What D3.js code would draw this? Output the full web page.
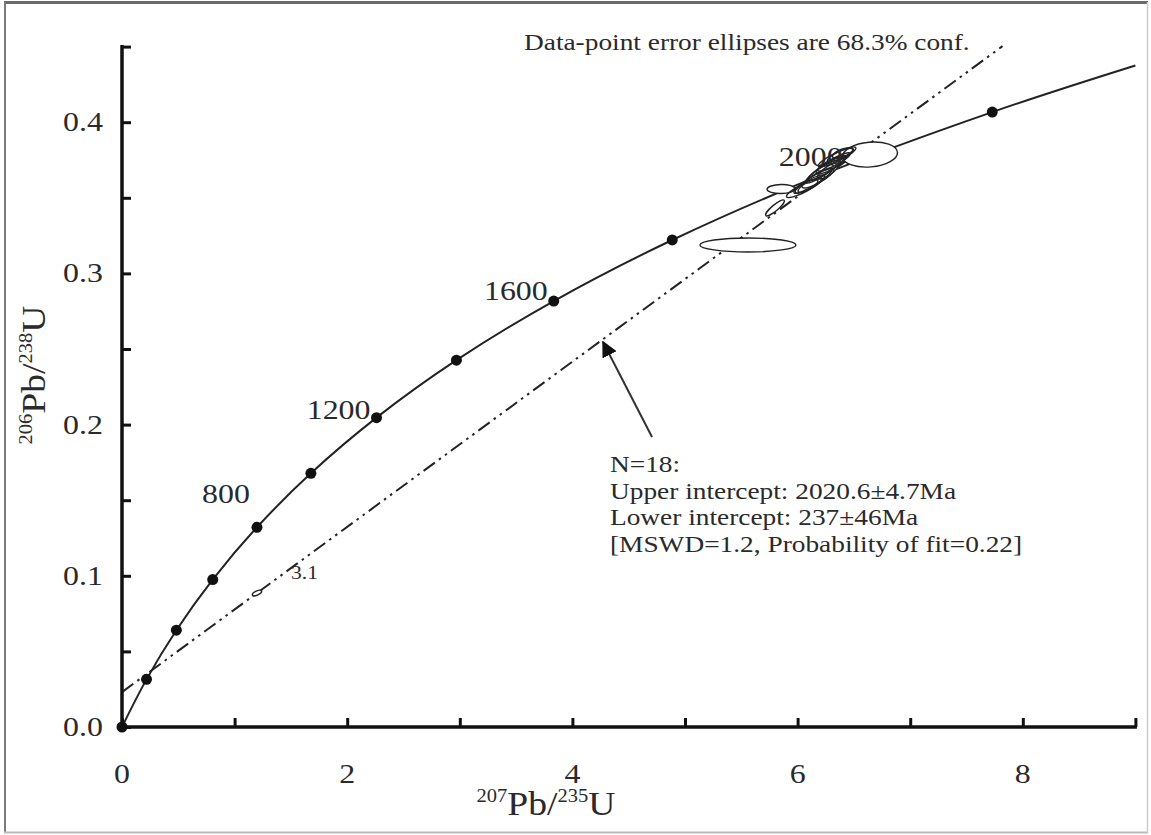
<!DOCTYPE html>
<meta charset="utf-8">
<style>
  body { margin: 0; background: #fff; }
  svg text { font-family: "Liberation Serif", "Times New Roman", serif; fill: #2a2a2a; }
</style>
<svg width="1151" height="835"></svg>
<script src="https://d3js.org/d3.v7.min.js"></script>
<script>
// concordia tick points (Ma) and their ratios
var concAges = [0, 200, 400, 600, 800, 1000, 1200, 1400, 1600, 1800, 2000, 2200]
var concX = [0, 0.2177, 0.4828, 0.8056, 1.1987, 1.6774, 2.2603, 2.9702, 3.8344, 4.8869, 6.1686, 7.7289]
var concY = [0, 0.0315, 0.0640, 0.0975, 0.1321, 0.1678, 0.2046, 0.2426, 0.2817, 0.3221, 0.3638, 0.4067]
var concEnd = [9.0, 0.4375]
var ageLabels = [800, 1200, 1600, 2000]

// discordia line ends
var discX = [0, 7.82]
var discY = [0.0231, 0.4503]

// analyses: 207/235, 206/238, errors, rho
var ellX   = [6.643, 5.853, 5.799, 5.559, 1.199, 6.057, 6.110, 6.137, 6.181, 6.217, 6.261, 6.297, 6.323, 6.350, 6.377, 6.403, 6.270, 6.092]
var ellY   = [0.3786, 0.3558, 0.3433, 0.3188, 0.0886, 0.3565, 0.3591, 0.3611, 0.3631, 0.3671, 0.3697, 0.3717, 0.3737, 0.3770, 0.3783, 0.3796, 0.3677, 0.3578]
var ellSx  = [0.244, 0.124, 0.0834, 0.426, 0.041, 0.156, 0.131, 0.170, 0.142, 0.147, 0.170, 0.131, 0.144, 0.168, 0.113, 0.094, 0.094, 0.088]
var ellSy  = [0.00827, 0.0030, 0.00532, 0.00463, 0.00184, 0.0064, 0.0060, 0.0082, 0.0066, 0.0074, 0.0082, 0.0060, 0.0060, 0.0066, 0.0044, 0.0036, 0.0053, 0.0042]
var ellRho = [0.15, 0.05, 0.88, 0.0, 0.63, 0.875, 0.852, 0.917, 0.831, 0.898, 0.917, 0.852, 0.90, 0.885, 0.82, 0.59, 0.78, 0.78]

var xTicks = [0, 2, 4, 6, 8]
var yTicks = [0, 0.1, 0.2, 0.3, 0.4]

var caption = "Data-point error ellipses are 68.3% conf."
var resultLines = ["N=18:", "Upper intercept: 2020.6\u00b14.7Ma", "Lower intercept: 237\u00b146Ma", "[MSWD=1.2, Probability of fit=0.22]"]
var arrowFrom = [4.707, 0.1918], arrowTo = [4.272, 0.2546]

var svg = d3.select('svg')
var stretch = 1.14   // the picture's text is a bit wide

var x = d3.scaleLinear().domain([0, 9]).range([122, 1135.4])
var y = d3.scaleLinear().domain([0, 0.45]).range([727, 46.6])

// frame
svg.append('line').attr('x1', 4).attr('x2', 1148).attr('y1', 2.5).attr('y2', 2.5).attr('stroke', '#6a6a6a').attr('stroke-width', 3)
svg.append('line').attr('x1', 5).attr('x2', 5).attr('y1', 2).attr('y2', 833).attr('stroke', '#7a7a7a').attr('stroke-width', 2)
svg.append('line').attr('x1', 4).attr('x2', 1148).attr('y1', 832.5).attr('y2', 832.5).attr('stroke', '#bbb').attr('stroke-width', 2)
svg.append('line').attr('x1', 1147.5).attr('x2', 1147.5).attr('y1', 2).attr('y2', 833).attr('stroke', '#ccc').attr('stroke-width', 1.5)

function stext(px, py, str, size, anchor) {
  return svg.append('text')
    .attr('transform', 'translate(' + px + ',' + py + ') scale(' + stretch + ',1)')
    .attr('font-size', size)
    .attr('text-anchor', anchor || 'start')
    .text(str)
}

// discordia
svg.append('line')
  .attr('x1', x(discX[0])).attr('y1', y(discY[0]))
  .attr('x2', x(discX[1])).attr('y2', y(discY[1]))
  .attr('stroke', '#222').attr('stroke-width', 2)
  .attr('stroke-dasharray', '14,5,2.5,5,2.5,5')

// concordia
var pts = concX.map(function (d, i) { return [d, concY[i]] })
pts.push(concEnd)
svg.append('path')
  .datum(pts)
  .attr('fill', 'none').attr('stroke', '#222').attr('stroke-width', 2)
  .attr('d', d3.line().x(function (d) { return x(d[0]) }).y(function (d) { return y(d[1]) }).curve(d3.curveCatmullRom.alpha(0.5)))

svg.append('g').selectAll('circle')
  .data(concAges)
  .enter().append('circle')
    .attr('cx', function (d, i) { return x(concX[i]) })
    .attr('cy', function (d, i) { return y(concY[i]) })
    .attr('r', 5.5)
    .attr('fill', '#111')

// error ellipses: white fills first, then all outlines on top
var kx = x(1) - x(0), ky = y(0) - y(1)
var ells = ellX.map(function (cx, i) {
  var sx = ellSx[i] * kx, sy = ellSy[i] * ky, cov = ellRho[i] * sx * sy
  var m = (sx * sx + sy * sy) / 2
  var d = Math.sqrt(Math.pow((sx * sx - sy * sy) / 2, 2) + cov * cov)
  return {
    cx: x(cx), cy: y(ellY[i]),
    a: Math.sqrt(m + d), b: Math.sqrt(Math.max(m - d, 0.5)),
    ang: 0.5 * Math.atan2(2 * cov, sx * sx - sy * sy) * 180 / Math.PI
  }
})
;['fill', 'line'].forEach(function (layer) {
  svg.append('g').selectAll('ellipse')
    .data(ells)
    .enter().append('ellipse')
      .attr('transform', function (e) { return 'translate(' + e.cx + ',' + e.cy + ') rotate(' + (-e.ang) + ')' })
      .attr('rx', function (e) { return e.a })
      .attr('ry', function (e) { return e.b })
      .attr('fill', layer == 'fill' ? '#fff' : 'none')
      .attr('stroke', layer == 'fill' ? 'none' : '#222')
      .attr('stroke-width', 1.4)
})

// age labels
var labelShift = { 800: [-7, -24], 1200: [-6, 1], 1600: [-6, -1], 2000: [26, -11] }
ageLabels.forEach(function (a) {
  var i = concAges.indexOf(a)
  stext(x(concX[i]) + labelShift[a][0], y(concY[i]) + labelShift[a][1], String(a), 28, 'end')
})

// small label on discordia
stext(x(1.5), y(0.0982), '3.1', 19, 'start').attr('fill', '#555')

// axes
var xAxis = d3.axisBottom(x).tickValues(d3.range(0, 10, 1)).tickSize(-9).tickFormat('')
var gx = svg.append('g').attr('transform', 'translate(0,' + y(0) + ')').call(xAxis)
var yAxis = d3.axisLeft(y).tickValues(d3.range(0, 0.451, 0.05)).tickSize(-9).tickFormat('')
var gy = svg.append('g').attr('transform', 'translate(' + x(0) + ',0)').call(yAxis)
;[gx, gy].forEach(function (g) {
  g.select('.domain').remove()
  g.selectAll('.tick line').attr('stroke', '#111').attr('stroke-width', 3)
})
svg.append('line').attr('x1', x(0) - 1.5).attr('x2', x(9) + 1.5).attr('y1', y(0)).attr('y2', y(0)).attr('stroke', '#111').attr('stroke-width', 3.5)
svg.append('line').attr('x1', x(0)).attr('x2', x(0)).attr('y1', y(0) + 1.5).attr('y2', y(0.45) - 1.5).attr('stroke', '#111').attr('stroke-width', 3.5)

xTicks.forEach(function (t) { stext(x(t), 783, String(t), 28, 'middle') })
yTicks.forEach(function (t) { stext(103, y(t) + 9, d3.format('.1f')(t), 28, 'end') })

// axis titles
var xt = svg.append('text').attr('transform', 'translate(546,815) scale(' + stretch + ',1)').attr('text-anchor', 'middle')
xt.append('tspan').attr('font-size', 18).attr('dy', -13).text('207')
xt.append('tspan').attr('font-size', 33).attr('dy', 13).text('Pb/')
xt.append('tspan').attr('font-size', 18).attr('dy', -13).text('235')
xt.append('tspan').attr('font-size', 33).attr('dy', 13).text('U')

var yt = svg.append('text').attr('transform', 'translate(45,375) rotate(-90) scale(' + stretch + ',1)').attr('text-anchor', 'middle')
yt.append('tspan').attr('font-size', 18).attr('dy', -13).text('206')
yt.append('tspan').attr('font-size', 33).attr('dy', 13).text('Pb/')
yt.append('tspan').attr('font-size', 18).attr('dy', -13).text('238')
yt.append('tspan').attr('font-size', 33).attr('dy', 13).text('U')

// caption and results
stext(524, 50, caption, 24, 'start')
resultLines.forEach(function (s, i) { stext(610, 472 + i * 26.7, s, 24, 'start') })

// arrow
svg.append('defs').append('marker')
  .attr('id', 'head').attr('viewBox', '0 0 10 10').attr('refX', 9).attr('refY', 5)
  .attr('markerWidth', 8).attr('markerHeight', 8).attr('orient', 'auto')
  .append('path').attr('d', 'M0,0L10,5L0,10z').attr('fill', '#111')
svg.append('line')
  .attr('x1', x(arrowFrom[0])).attr('y1', y(arrowFrom[1]))
  .attr('x2', x(arrowTo[0])).attr('y2', y(arrowTo[1]))
  .attr('stroke', '#333').attr('stroke-width', 2)
  .attr('marker-end', 'url(#head)')
</script>
